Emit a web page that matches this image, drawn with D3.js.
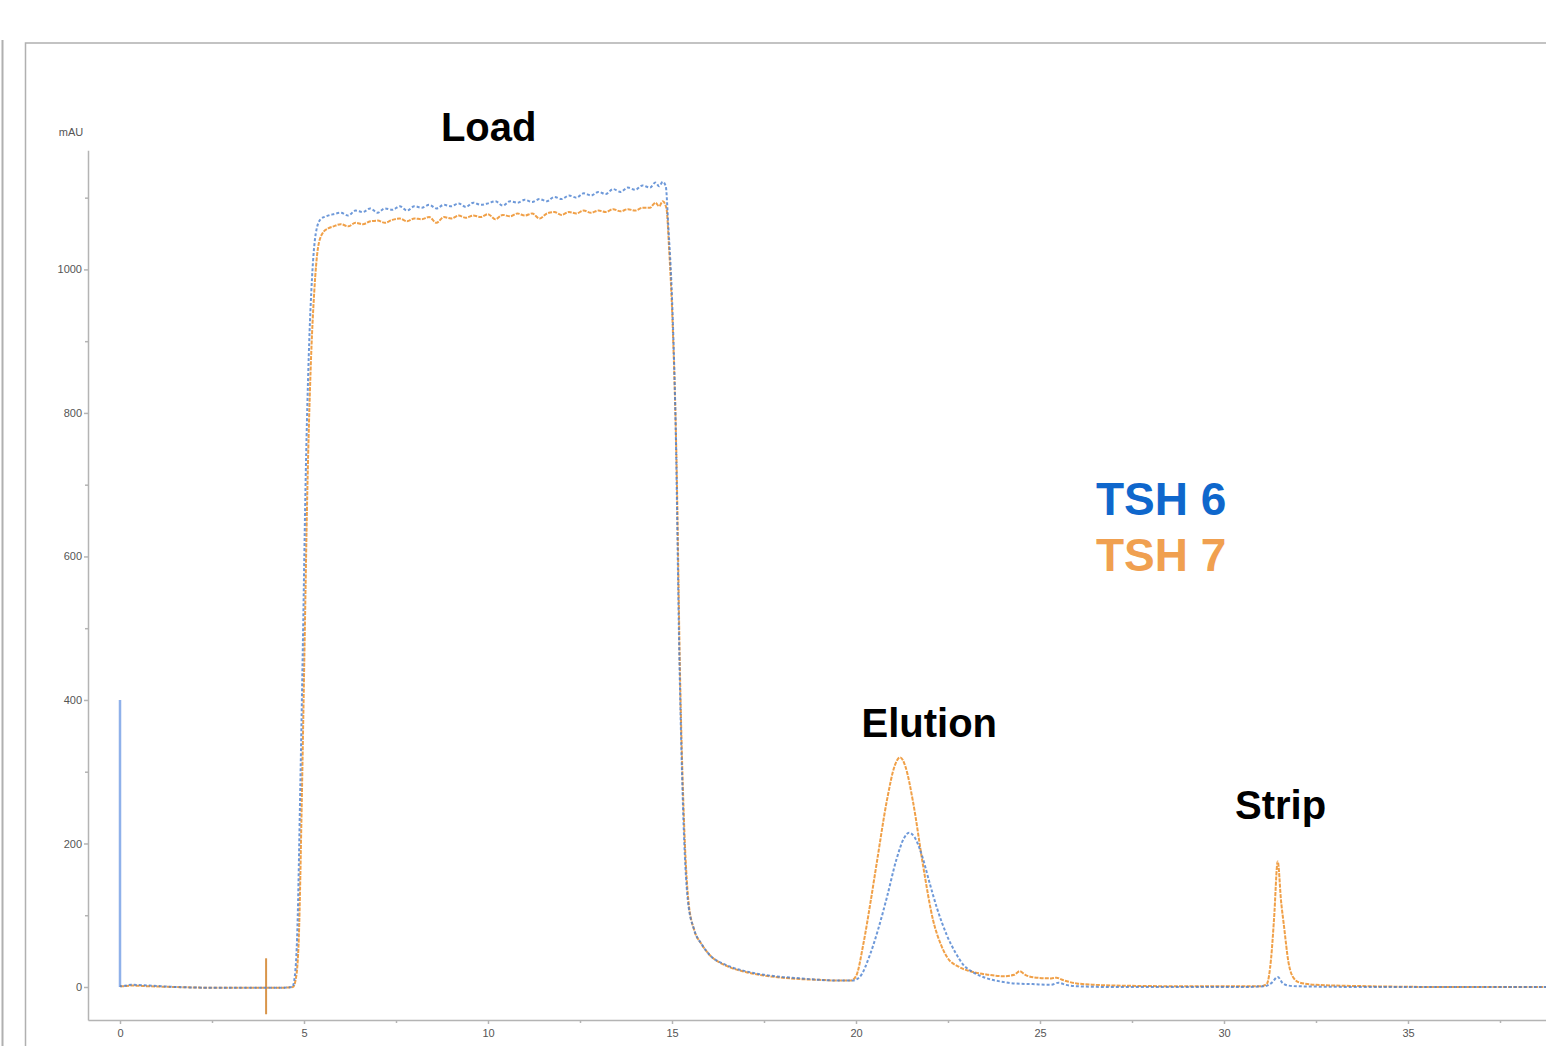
<!DOCTYPE html>
<html>
<head>
<meta charset="utf-8">
<script src="https://cdn.jsdelivr.net/npm/d3@7/dist/d3.min.js"></script>
<style>
  body { margin: 0; background: #fff; overflow: hidden; }
  svg { display: block; font-family: "Liberation Sans", Arial, sans-serif; }
  .axis path, .axis line { stroke: #b4b4b4; stroke-width: 1.5; }
  .axis text { fill: #555; font-size: 11px; font-family: "Liberation Sans", Arial, sans-serif; }
  .label { font-weight: bold; font-size: 40px; fill: #000; }
</style>
</head>
<body>
<div id="chart"></div>
<script>
// time (min) / absorbance (mAU)
var tsh6Time = [0.0, 0.05, 0.3, 0.8, 1.5, 2.5, 3.5, 4.4, 4.68, 4.75, 4.82, 4.9, 4.97, 5.05, 5.13, 5.22, 5.32, 5.45, 5.6,
  5.8, 6.0, 6.2, 6.4, 6.6, 6.8, 7.0, 7.2, 7.4, 7.6, 7.8, 8.0, 8.2, 8.4, 8.6, 8.8, 9.0, 9.2, 9.4, 9.6, 9.8, 10.0,
  10.2, 10.4, 10.6, 10.8, 11.0, 11.2, 11.4, 11.6, 11.8, 12.0, 12.2, 12.4, 12.6, 12.8, 13.0, 13.2, 13.4, 13.6, 13.8,
  14.0, 14.2, 14.4, 14.55, 14.65, 14.75, 14.83,
  14.9, 15.0, 15.1, 15.2, 15.3, 15.43, 15.6, 15.8, 16.0, 16.5, 17.0, 17.5, 18.0, 18.5, 19.0, 19.5, 19.9,
  20.1, 20.38, 20.6, 20.84, 21.1, 21.3, 21.44, 21.6, 21.8, 22.0, 22.2, 22.47, 22.7, 22.9, 23.2, 23.56, 24.0, 24.27,
  24.8, 25.3, 25.5, 25.7, 26.0, 27.0, 29.0, 30.5, 31.1, 31.3, 31.46, 31.6, 31.75, 32.0, 34.0, 36.0, 39.0];
var tsh6Value = [2, 1, 3, 2, 0, -1, -1, -1, 0, 15, 80, 280, 480, 720, 880, 990, 1050, 1070, 1074,
  1077, 1079, 1075, 1082, 1080, 1085, 1079, 1085, 1083, 1088, 1082, 1088, 1086, 1090, 1085, 1090, 1088, 1092, 1087, 1093, 1090, 1092,
  1095, 1089, 1095, 1093, 1097, 1094, 1098, 1095, 1101, 1098, 1103, 1100, 1106, 1103, 1108, 1105, 1112, 1108, 1114,
  1111, 1117, 1114, 1121, 1116, 1122, 1116,
  1060, 960, 780, 460, 250, 121, 80, 60, 46, 30, 22, 17, 14, 12, 10, 9, 9,
  14, 45, 80, 125, 178, 207, 215, 208, 182, 145, 110, 72, 48, 32, 20, 12, 7, 5,
  4, 3, 6, 3, 1, 0, 0, 0, 1, 6, 14, 5, 2, 1, 0, 0, 0];

var tsh7Time = [0.0, 0.05, 0.3, 0.8, 1.5, 2.5, 3.5, 4.4, 4.7, 4.78, 4.86, 4.94, 5.01, 5.09, 5.18, 5.28, 5.38, 5.5, 5.65,
  5.8, 6.0, 6.2, 6.4, 6.6, 6.8, 7.0, 7.2, 7.4, 7.6, 7.8, 8.0, 8.2, 8.4, 8.6, 8.8, 9.0, 9.2, 9.4, 9.6, 9.8, 10.0,
  10.2, 10.4, 10.6, 10.8, 11.0, 11.2, 11.4, 11.6, 11.8, 12.0, 12.2, 12.4, 12.6, 12.8, 13.0, 13.2, 13.4, 13.6, 13.8,
  14.0, 14.2, 14.4, 14.55, 14.65, 14.75, 14.85,
  14.92, 15.02, 15.12, 15.22, 15.32, 15.45, 15.6, 15.8, 16.0, 16.5, 17.0, 17.5, 18.0, 18.5, 19.0, 19.5, 19.85,
  20.0, 20.2, 20.4, 20.57, 20.84, 21.05, 21.2, 21.35, 21.55, 21.82, 22.1, 22.3, 22.47, 22.8, 23.1, 23.6, 24.0, 24.3,
  24.45, 24.6, 24.9, 25.3, 25.45, 25.6, 26.0, 26.5, 27.0, 29.0, 31.0, 31.16, 31.28, 31.36, 31.46, 31.55, 31.63,
  31.75, 31.9, 32.07, 32.5, 34.0, 36.0, 39.0];
var tsh7Value = [1, 1, 2, 1, 0, -1, -1, -1, 0, 12, 70, 260, 460, 690, 860, 970, 1030, 1050, 1057,
  1060, 1063, 1060, 1065, 1063, 1067, 1068, 1065, 1069, 1071, 1067, 1071, 1070, 1073, 1065, 1073, 1071, 1075, 1072, 1075, 1073, 1077,
  1070, 1076, 1074, 1078, 1075, 1078, 1071, 1078, 1080, 1076, 1080, 1078, 1082, 1079, 1082, 1080, 1084, 1081, 1084,
  1082, 1086, 1086, 1093, 1088, 1095, 1085,
  1030, 920, 740, 430, 240, 118, 80, 60, 46, 29, 21, 16, 13, 11, 10, 9, 9,
  15, 60, 120, 175, 260, 308, 320, 306, 258, 170, 92, 60, 42, 28, 22, 17, 15, 17,
  22, 17, 13, 12, 13, 10, 5, 3, 2, 1, 1, 4, 40, 95, 175, 120, 85,
  35, 12, 6, 3, 1, 0, 0];

// injection marks
var injectSpike6 = [[0, 0], [0, 400]];
var injectSpike7 = [[3.97, -38], [3.97, 40]];

var yMajor = [0, 200, 400, 600, 800, 1000];
var yMinor = [100, 300, 500, 700, 900, 1100];
var xMajor = [0, 5, 10, 15, 20, 25, 30, 35];
var xMinor = [2.5, 7.5, 12.5, 17.5, 22.5, 27.5, 32.5, 37.5];

var peakLabels = ["Load", "Elution", "Strip"];
var peakLabelTime = [8.72, 20.15, 30.3];
var peakLabelValue = [1179, 348, 234];

var seriesNames = ["TSH 6", "TSH 7"];
var seriesColors = ["#4a7fd0", "#f0a048"];
var legendColors = ["#0f67cc", "#f0a050"];

var W = 1546, H = 1046;
var svg = d3.select("#chart").append("svg").attr("width", W).attr("height", H);

// outer window borders
svg.append("line").attr("x1", 2.5).attr("x2", 2.5).attr("y1", 40).attr("y2", H)
  .attr("stroke", "#b0b0b0").attr("stroke-width", 2);
svg.append("rect").attr("x", 25.5).attr("y", 43).attr("width", 1600).attr("height", 1100)
  .attr("fill", "none").attr("stroke", "#b0b0b0").attr("stroke-width", 1.5);

var x = d3.scaleLinear().domain([-32 / 36.8, (1546 - 120) / 36.8]).range([88, 1546]);
var y = d3.scaleLinear().domain([-46, 1166]).range([1020, 150.3]);

// y axis
svg.append("g").attr("class", "axis").attr("transform", "translate(88,0)")
  .call(d3.axisLeft(y).tickValues(yMinor).tickSize(3).tickFormat(""))
  .call(function(g) { g.select(".domain").remove(); });
svg.append("g").attr("class", "axis").attr("transform", "translate(88,0)")
  .call(d3.axisLeft(y).tickValues(yMajor).tickFormat(d3.format("d")).tickSizeInner(4).tickSizeOuter(0).tickPadding(2));

// x axis
svg.append("g").attr("class", "axis").attr("transform", "translate(0,1020)")
  .call(d3.axisBottom(x).tickValues(xMinor).tickSize(3).tickFormat(""))
  .call(function(g) { g.select(".domain").remove(); });
svg.append("g").attr("class", "axis").attr("transform", "translate(0,1020)")
  .call(d3.axisBottom(x).tickValues(xMajor).tickSizeInner(4).tickSizeOuter(0).tickPadding(5));

svg.append("text").attr("x", 71).attr("y", 136).attr("text-anchor", "middle")
  .style("font-size", "11px").style("fill", "#555").text("mAU");

var line = d3.line()
  .x(function(d) { return x(d[0]); })
  .y(function(d) { return y(d[1]); })
  .curve(d3.curveMonotoneX);

var tsh6 = tsh6Time.map(function(t, i) { return [t, tsh6Value[i]]; });
var tsh7 = tsh7Time.map(function(t, i) { return [t, tsh7Value[i]]; });

svg.append("path").datum(injectSpike6).attr("d", d3.line().x(function(d) { return x(d[0]); }).y(function(d) { return y(d[1]); }))
  .attr("stroke", "#8fb1ea").attr("stroke-width", 2.5).attr("fill", "none");
svg.append("path").datum(injectSpike7).attr("d", d3.line().x(function(d) { return x(d[0]); }).y(function(d) { return y(d[1]); }))
  .attr("stroke", "#d9954a").attr("stroke-width", 2).attr("fill", "none");

svg.append("path").datum(tsh7).attr("d", line)
  .attr("fill", "none").attr("stroke", seriesColors[1]).attr("stroke-width", 2)
  .attr("stroke-dasharray", "4,1.2");
svg.append("path").datum(tsh6).attr("d", line)
  .attr("fill", "none").attr("stroke", seriesColors[0]).attr("stroke-width", 2)
  .attr("stroke-dasharray", "3,2").attr("stroke-dashoffset", 1).attr("opacity", 0.8);

// peak annotations
peakLabels.forEach(function(lbl, i) {
  svg.append("text").attr("class", "label")
    .attr("x", x(peakLabelTime[i])).attr("y", y(peakLabelValue[i]))
    .text(lbl);
});

// legend
seriesNames.forEach(function(name, i) {
  svg.append("text")
    .attr("x", 1096).attr("y", 515 + i * 56)
    .style("font-weight", "bold").style("font-size", "46px")
    .style("fill", legendColors[i])
    .text(name);
});
</script>
</body>
</html>
